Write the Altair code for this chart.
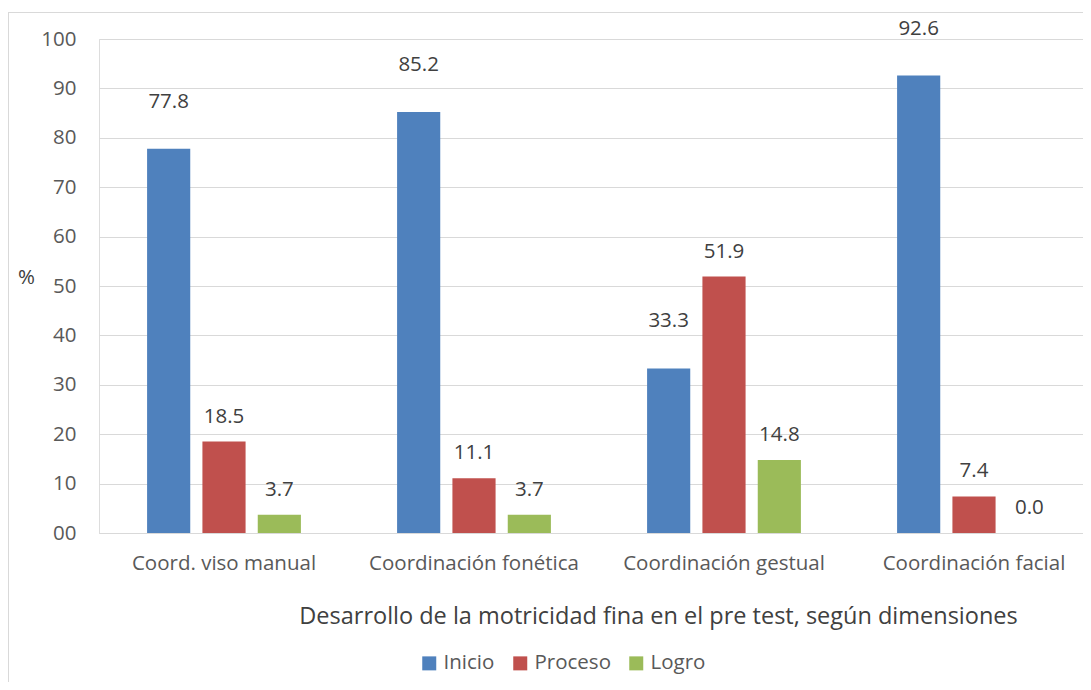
import altair as alt
import pandas as pd

categories = ["Coord. viso manual", "Coordinación fonética", "Coordinación gestual", "Coordinación facial"]
series = ["Inicio", "Proceso", "Logro"]
inicio = [77.8, 85.2, 33.3, 92.6]
proceso = [18.5, 11.1, 51.9, 7.4]
logro = [3.7, 3.7, 14.8, 0.0]
colors = ["#4F81BD", "#C0504D", "#9BBB59"]
y_ticks = [0, 10, 20, 30, 40, 50, 60, 70, 80, 90, 100]

rows = []
for s, vals in zip(series, [inicio, proceso, logro]):
    for c, v in zip(categories, vals):
        rows.append({"cat": c, "serie": s, "val": v})
df = pd.DataFrame(rows)

FONT = "Open Sans"
FS = 20.5

x_enc = alt.X("cat:N", sort=categories,
              scale=alt.Scale(range=[0, 1000], paddingInner=0.336, paddingOuter=0.168),
              axis=alt.Axis(title="Desarrollo de la motricidad fina en el pre test, según dimensiones",
                            labelAngle=0, labelFontSize=FS, labelColor="#595959", labelLimit=0,
                            labelBaseline="alphabetic", labelPadding=36, ticks=False, tickSize=0,
                            domainColor="#D9D9D9", domainWidth=1, grid=False,
                            titleFontSize=23.5, titleColor="#404040", titleFontWeight="normal",
                            titleX=559, titleY=90, titleAlign="center", titleBaseline="alphabetic",
                            titleLimit=0))
xo_enc = alt.XOffset("serie:N", sort=series,
                     scale=alt.Scale(paddingInner=0.22, paddingOuter=0.11))
y_enc = alt.Y("val:Q", scale=alt.Scale(domain=[0, 100]),
              axis=alt.Axis(title="%", values=y_ticks, format="02d", labelFontSize=FS,
                            labelColor="#595959", labelPadding=23, ticks=False, tickSize=0,
                            domain=False, gridColor="#D9D9D9", gridWidth=1,
                            titleAngle=0, titleFontSize=FS, titleColor="#404040",
                            titleFontWeight="normal", titleX=-73, titleY=244,
                            titleAlign="center", titleBaseline="alphabetic"))
color_enc = alt.Color("serie:N", sort=series,
                      scale=alt.Scale(domain=series, range=colors),
                      legend=alt.Legend(title=None, orient="none", direction="horizontal",
                                        legendX=320, legendY=614, symbolType="square",
                                        symbolSize=196, symbolStrokeWidth=0, labelFontSize=FS,
                                        labelColor="#595959", labelOffset=4, columnPadding=15))

base = alt.Chart(df)
bars = base.mark_bar().encode(x=x_enc, xOffset=xo_enc, y=y_enc, color=color_enc)

text_inicio = base.transform_filter(alt.datum.serie == "Inicio").mark_text(
    baseline="alphabetic", dy=-41, fontSize=FS, font=FONT, color="#404040"
).encode(x=alt.X("cat:N", sort=categories), xOffset=alt.XOffset("serie:N", sort=series),
         y="val:Q", text=alt.Text("val:Q", format=".1f"))
text_rest = base.transform_filter(alt.datum.serie != "Inicio").mark_text(
    baseline="alphabetic", dy=-19, fontSize=FS, font=FONT, color="#404040"
).encode(x=alt.X("cat:N", sort=categories), xOffset=alt.XOffset("serie:N", sort=series),
         y="val:Q", text=alt.Text("val:Q", format=".1f"))

frame_df = pd.DataFrame({"k": [0]})
frame_left = alt.Chart(frame_df).mark_rule(color="#D9D9D9", strokeWidth=1).encode(
    x=alt.value(-90.5), y=alt.value(-27), y2=alt.value(700))
frame_top = alt.Chart(frame_df).mark_rule(color="#D9D9D9", strokeWidth=1).encode(
    x=alt.value(-91), x2=alt.value(1100), y=alt.value(-26.5))

chart = alt.layer(bars, text_inicio, text_rest, frame_left, frame_top).properties(
    width=984, height=494,
    autosize=alt.AutoSizeParams(type="none"),
    padding={"left": 91, "top": 31, "right": 0, "bottom": 149},
).configure_view(stroke=None).configure(font=FONT)

chart.save("out.html", embed_options={"renderer": "svg", "actions": False})
